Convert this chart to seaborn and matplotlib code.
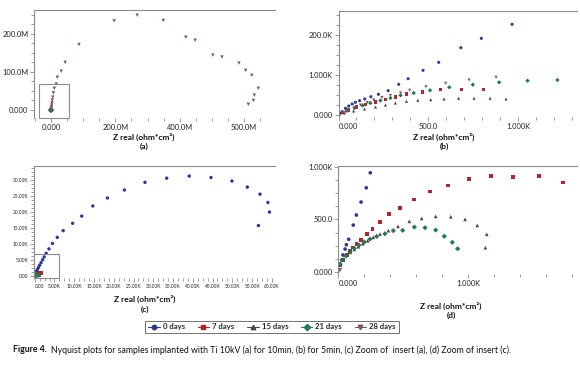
import numpy as np
import pandas as pd
import matplotlib
matplotlib.use("Agg")
import matplotlib.pyplot as plt
import seaborn as sns
from matplotlib.lines import Line2D
from matplotlib.patches import Rectangle
from matplotlib.ticker import MultipleLocator

series = ["0 days", "7 days", "15 days", "21 days", "28 days"]
colors = ["#2b3a8f", "#b3242b", "#5a3c50", "#237a4e", "#7a5262"]
markers = ["o", "s", "^", "D", "v"]

# --- Ti 10kV, 10 min (panels a, c, d) ---
zre10_0 = [13, 26, 36, 52, 62, 80, 115, 139, 175, 215, 246,
           350, 500, 700, 950, 1250, 1600, 2000, 2400, 2900, 3600, 4500, 5700,
           7200, 9600, 11900, 14700, 18400, 22700, 27900, 33400, 39100, 44600,
           49900, 53800, 57000, 59000, 59400, 56600]
zim10_0 = [69, 116, 164, 220, 261, 312, 447, 542, 665, 800, 942,
           1200, 1600, 2100, 2700, 3400, 4200, 5100, 6000, 7100, 8500, 10200, 12100,
           14200, 16500, 18750, 21900, 24400, 26900, 29300, 30600, 31250, 30800,
           29700, 27800, 25600, 23000, 20000, 15800]
zre10_7 = [18, 38, 65, 90, 115, 141, 177, 221, 262, 321, 392, 477, 580, 705,
           844, 1003, 1172, 1346, 1546, 1726]
zim10_7 = [69, 116, 164, 201, 236, 268, 308, 362, 413, 479, 549, 608, 690, 766,
           823, 880, 914, 902, 914, 851]
zre10_15 = [18, 38, 65, 92, 123, 154, 188, 226, 269, 321, 385, 459, 546, 641,
            749, 865, 975, 1069, 1142, 1131]
zim10_15 = [85, 126, 161, 189, 217, 242, 271, 299, 331, 362, 394, 435, 482, 510,
            529, 526, 501, 444, 359, 233]
zre10_21 = [13, 34, 59, 90, 123, 159, 200, 244, 295, 359, 423, 495, 585, 667,
            749, 815, 877, 918]
zim10_21 = [76, 116, 154, 195, 227, 258, 287, 315, 340, 365, 394, 397, 428, 422,
            400, 341, 284, 223]
zre10_28 = [3, 15, 0.5e6, 1.0e6, 1.5e6, 2.2e6, 3.0e6, 4.0e6, 5.5e6, 7.5e6, 10.3e6,
            16.5e6, 19.6e6, 32e6, 44e6, 87e6, 196e6, 268e6, 349e6, 419e6, 448e6,
            503e6, 531e6, 584e6, 605e6, 624e6, 644e6, 632e6, 629e6, 613e6]
zim10_28 = [5, 25, 1.5e6, 4e6, 8e6, 13e6, 19e6, 26e6, 34e6, 45e6, 57e6,
            68e6, 86e6, 102e6, 125e6, 172e6, 234e6, 249e6, 235e6, 191e6, 183e6,
            144e6, 139e6, 123e6, 104e6, 91e6, 57e6, 39e6, 25e6, 15e6]

# --- Ti 10kV, 5 min (panel b) ---
zre5_0 = [5, 10, 21, 39, 57, 76, 94, 117, 146, 180, 222, 276, 335, 387, 470, 557, 680, 794, 965]
zim5_0 = [20, 45, 83, 167, 225, 275, 317, 358, 400, 458, 517, 608, 767, 908, 1117, 1317, 1683, 1917, 2268]
zre5_7 = [22, 55, 100, 150, 206, 261, 316, 378, 465, 568, 685, 804]
zim5_7 = [63, 125, 200, 263, 325, 388, 450, 525, 575, 633, 643, 643]
zre5_15 = [33, 84, 144, 206, 261, 316, 378, 441, 513, 587, 668, 754, 843, 931]
zim5_15 = [50, 100, 150, 200, 250, 300, 343, 368, 383, 400, 418, 418, 418, 400]
zre5_21 = [45, 89, 134, 177, 233, 289, 345, 418, 509, 616, 747, 893, 1051, 1217]
zim5_21 = [100, 175, 238, 300, 363, 425, 493, 550, 618, 693, 758, 818, 858, 875]
zre5_28 = [28, 55, 89, 122, 160, 196, 242, 289, 345, 396, 486, 596, 726, 876]
zim5_28 = [63, 125, 188, 250, 313, 375, 438, 488, 550, 618, 708, 793, 875, 943]


def long_frame(xs, ys):
    parts = [pd.DataFrame({"zre": x, "zim": y, "age": name})
             for name, x, y in zip(series, xs, ys)]
    return pd.concat(parts, ignore_index=True)


df10 = long_frame([zre10_0, zre10_7, zre10_15, zre10_21, zre10_28],
                  [zim10_0, zim10_7, zim10_15, zim10_21, zim10_28])
df5 = long_frame([zre5_0, zre5_7, zre5_15, zre5_21, zre5_28],
                 [zim5_0, zim5_7, zim5_15, zim5_21, zim5_28])

sns.set_style("white")
plt.rcParams["font.family"] = ["Lato", "DejaVu Sans"]

W, H = 580, 372
fig = plt.figure(figsize=(W / 100, H / 100), dpi=100)


def box(l, t, r, b):
    return [l / W, 1 - b / H, (r - l) / W, (b - t) / H]


def draw(ax, df, size):
    sns.scatterplot(data=df, x="zre", y="zim", hue="age", style="age",
                    hue_order=series, style_order=series,
                    palette=dict(zip(series, colors)),
                    markers=dict(zip(series, markers)),
                    s=size, linewidth=0, legend=False, ax=ax)


def style(ax, xlim, ylim, xt, xl, yt, yl, xmin_step, ymin_step, fs):
    ax.set_xlim(xlim)
    ax.set_ylim(ylim)
    for side in ["right", "bottom"]:
        ax.spines[side].set_visible(False)
    for side in ["left", "top"]:
        ax.spines[side].set_color("#8c8c8c")
        ax.spines[side].set_linewidth(0.8)
    ax.set_xticks(xt)
    ax.set_xticklabels(xl)
    ax.set_yticks(yt)
    ax.set_yticklabels(yl)
    ax.xaxis.set_minor_locator(MultipleLocator(xmin_step))
    ax.yaxis.set_minor_locator(MultipleLocator(ymin_step))
    ax.tick_params(which="both", direction="out", color="#8c8c8c",
                   left=True, bottom=True, top=False, right=False,
                   labelcolor="#222222", labelsize=fs, pad=1, width=0.6)
    ax.tick_params(which="major", length=3)
    ax.tick_params(which="minor", length=2)
    ax.get_xticklabels()[0].set_horizontalalignment("left")
    ax.set_xlabel("")
    ax.set_ylabel("")


# (a)
ax_a = fig.add_axes(box(34, 10, 275, 118))
draw(ax_a, df10, 6)
style(ax_a, (-52.8e6, 696e6), (-21e6, 262.5e6),
      [0, 200e6, 400e6, 600e6], ["0.000", "200.0M", "400.0M", "500.0M"],
      [0, 100e6, 200e6], ["0.000", "100.0M", "200.0M"], 50e6, 25e6, 5.4)
ax_a.get_xticklabels()[0].set_horizontalalignment("center")
ax_a.add_patch(Rectangle((-37e6, -21e6), 93e6, 89e6, fill=False,
                         edgecolor="#8c8c8c", lw=0.8, clip_on=False))

# (b)
ax_b = fig.add_axes(box(338.5, 10.7, 577, 117))
draw(ax_b, df5, 5)
style(ax_b, (0, 1326), (-50, 2608),
      [0, 500, 1000], ["0.000", "500.0", "1.000K"],
      [0, 1000, 2000], ["0.000", "1.000K", "200.0K"], 100, 250, 5.4)

# (c)
ax_c = fig.add_axes(box(34, 166, 275, 278))
draw(ax_c, df10, 6)
xk = list(range(0, 61000, 5000))
yk = list(range(0, 31000, 5000))
style(ax_c, (-180, 60800), (-600, 34400),
      xk, ["0.00"] + [f"{v / 1000:.2f}K" for v in xk[1:]],
      yk, ["0.00"] + [f"{v / 1000:.2f}K" for v in yk[1:]], 1250, 1250, 3.5)
ax_c.add_patch(Rectangle((-180, -700), 6380, 7500, fill=False,
                         edgecolor="#8c8c8c", lw=0.8, clip_on=False))

# (d)
ax_d = fig.add_axes(box(338.3, 166, 577, 274))
draw(ax_d, df10, 7)
style(ax_d, (0, 1836), (-16, 1006),
      [0, 1000], ["0.000", "1.000K"],
      [0, 500, 1000], ["0.000", "500.0", "1.000K"], 200, 125, 5.4)

# axis titles and panel letters
for cx, ty, ly, tag in [(144, 137, 146, "(a)"), (444, 137, 146, "(b)"),
                        (145, 299, 309, "(c)"), (451, 306, 315, "(d)")]:
    fig.text(cx / W, 1 - ty / H, "Z real (ohm*cm²)", ha="center", va="center",
             fontsize=6, fontweight="bold", color="#111111")
    fig.text(cx / W, 1 - ly / H, tag, ha="center", va="center",
             fontsize=6, fontweight="bold", color="#111111")

handles = [Line2D([0], [0], color=c, marker=m, lw=0.8, markersize=3.2)
           for c, m in zip(colors, markers)]
leg = fig.legend(handles, series, loc="center", ncol=5,
                 bbox_to_anchor=(272 / W, 1 - 327 / H), frameon=True,
                 fancybox=False, edgecolor="#333333",
                 prop={"size": 5.6, "weight": "bold"},
                 handlelength=1.5, handletextpad=0.4, columnspacing=1.6,
                 borderpad=0.35)
leg.get_frame().set_linewidth(0.6)

fig.text(13 / W, 1 - 350 / H, "Figure 4.", fontsize=6.3, fontweight="bold",
         va="center", color="#111111")
fig.text(51 / W, 1 - 350 / H,
         "Nyquist plots for samples implanted with Ti 10kV (a) for 10min, "
         "(b) for 5min, (c) Zoom of  insert (a), (d) Zoom of insert (c).",
         fontsize=6.3, va="center", color="#111111")

fig.savefig("out.png", dpi=100)
